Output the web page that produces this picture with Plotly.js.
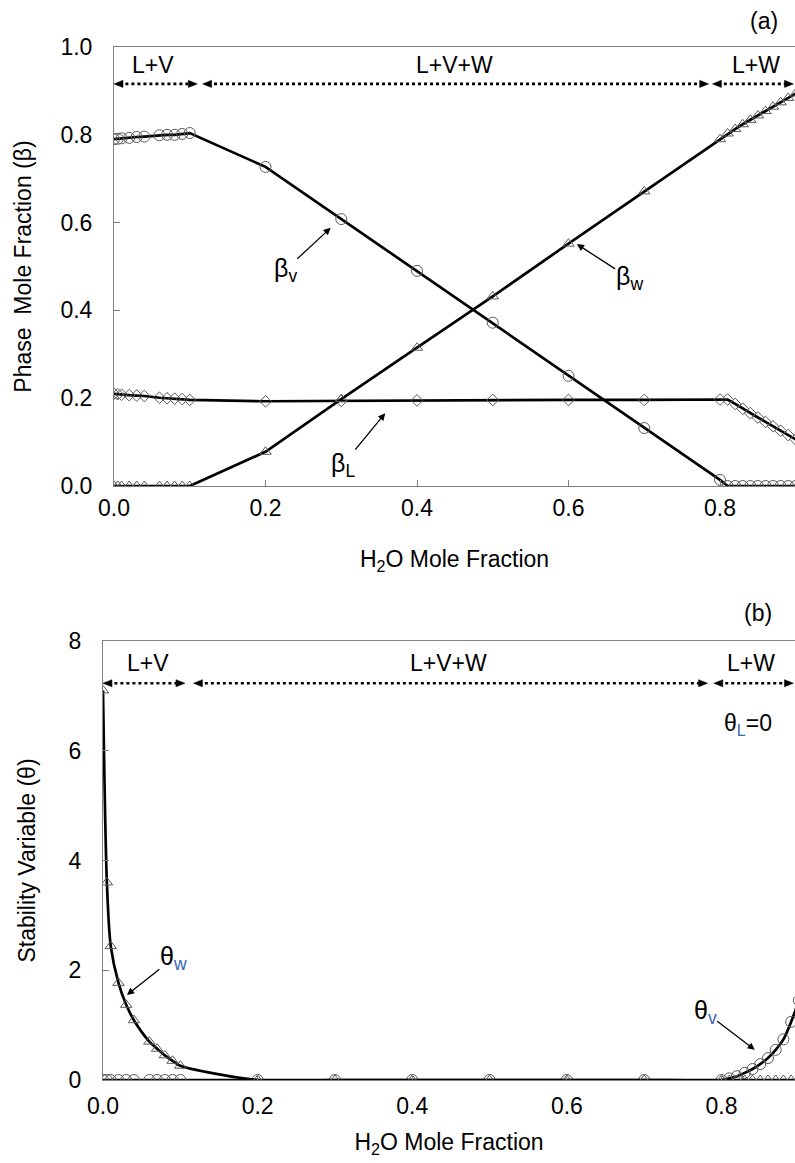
<!DOCTYPE html>
<html>
<head>
<meta charset="utf-8">
<script src="https://cdn.plot.ly/plotly-3.0.1.min.js"></script>
<style>html,body{margin:0;padding:0;background:#fff;}#chart{width:795px;height:1163px;}</style>
</head>
<body>
<div id="chart"></div>
<script>
// H2O mole fraction (shared x values)
const xH2O = [0, 0.005, 0.01, 0.02, 0.03, 0.04, 0.06, 0.07, 0.08, 0.09, 0.10,
  0.20, 0.30, 0.40, 0.50, 0.60, 0.70, 0.80,
  0.81, 0.82, 0.83, 0.84, 0.85, 0.86, 0.87, 0.88, 0.89, 0.90];

// Panel (a): phase mole fractions
const betaV = [0.790, 0.791, 0.792, 0.793, 0.795, 0.796, 0.799, 0.800, 0.800, 0.802, 0.804,
  0.727, 0.608, 0.490, 0.372, 0.251, 0.132, 0.014,
  0, 0, 0, 0, 0, 0, 0, 0, 0, 0];
const betaL = [0.210, 0.209, 0.208, 0.207, 0.206, 0.205, 0.201, 0.200, 0.199, 0.198, 0.196,
  0.193, 0.194, 0.195, 0.196, 0.196, 0.196, 0.197,
  0.197, 0.187, 0.176, 0.166, 0.156, 0.146, 0.136, 0.126, 0.116, 0.106];
const betaW = [0, 0, 0, 0, 0, 0, 0, 0, 0, 0, 0,
  0.078, 0.198, 0.315, 0.432, 0.552, 0.671, 0.790,
  0.803, 0.813, 0.824, 0.834, 0.844, 0.854, 0.864, 0.874, 0.884, 0.894];

// Panel (b): stability variables
const thetaW = [7.10, 3.60, 2.44, 1.77, 1.37, 1.09, 0.70, 0.57, 0.45, 0.35, 0.26,
  0, 0, 0, 0, 0, 0, 0,
  0, 0, 0, 0, 0, 0, 0, 0, 0, 0];
const thetaV = [0, 0, 0, 0, 0, 0, 0, 0, 0, 0, 0,
  0, 0, 0, 0, 0, 0, 0,
  0.03, 0.07, 0.13, 0.20, 0.29, 0.40, 0.55, 0.74, 1.06, 1.45];

const xTicks = [0, 0.2, 0.4, 0.6, 0.8];
const xTickText = ['0.0', '0.2', '0.4', '0.6', '0.8'];
const yTicksA = [0, 0.2, 0.4, 0.6, 0.8, 1.0];
const yTickTextA = ['0.0', '0.2', '0.4', '0.6', '0.8', '1.0'];
const yTicksB = [0, 2, 4, 6, 8];
const yTickTextB = ['0', '2', '4', '6', '8'];

const regionLabels = ['L+V', 'L+V+W', 'L+W'];

const W = 795, H = 1163;
const FONT = 'Liberation Sans, Arial, sans-serif';
const FS = 23;
const lineStyle = {color: '#000', width: 2.7};
const mk = (sym, size) => ({symbol: sym, size: size, color: '#5a5a5a', line: {color: '#5a5a5a', width: 1}});

const traces = [
  {x: xH2O, y: betaV, mode: 'lines+markers', line: lineStyle, marker: mk('circle-open', 11), xaxis: 'x', yaxis: 'y', name: 'βV'},
  {x: xH2O, y: betaL, mode: 'lines+markers', line: lineStyle, marker: mk('diamond-open', 9), xaxis: 'x', yaxis: 'y', name: 'βL'},
  {x: xH2O, y: betaW, mode: 'lines+markers', line: lineStyle, marker: mk('triangle-up-open', 10), xaxis: 'x', yaxis: 'y', name: 'βW'},
  {x: xH2O, y: thetaV, mode: 'lines+markers', line: Object.assign({shape: 'spline', smoothing: 0.8}, lineStyle), marker: mk('circle-open', 11), xaxis: 'x2', yaxis: 'y2', name: 'θV'},
  {x: xH2O, y: thetaW, mode: 'lines+markers', line: Object.assign({shape: 'spline', smoothing: 0.8}, lineStyle), marker: mk('triangle-up-open', 10), xaxis: 'x2', yaxis: 'y2', name: 'θW'}
];

const axisCommon = {
  showgrid: false, zeroline: false, showline: true, linecolor: '#808080', linewidth: 1,
  ticks: 'inside', ticklen: 6, tickcolor: '#808080', tickwidth: 1,
  tickfont: {family: FONT, size: FS, color: '#000'}
};

// axis geometry (px) used to size arrowheads
const geo = {
  a: {x0: 114, x1: W, xr: 0.899, y0: 47, y1: 486, yr: 1},
  b: {x0: 103, x1: W, xr: 0.895, y0: 641, y1: 1080, yr: 8}
};
// dotted region arrows: [x0, x1] per panel
const arrowsA = [[0, 0.110], [0.117, 0.785], [0.790, 0.897]];
const arrowsB = [[0, 0.106], [0.117, 0.782], [0.790, 0.893]];
const shapes = [];
const anns = [];
function regionArrows(list, xr, yr, yv, g) {
  const ux = g.xr / (g.x1 - g.x0), uy = g.yr / (g.y1 - g.y0);
  const L = 9 * ux, Hh = 3.6 * uy;
  list.forEach(([a, b]) => {
    shapes.push({type: 'line', xref: xr, yref: yr, x0: a + L * 0.6, x1: b - L * 0.6, y0: yv, y1: yv,
      line: {color: '#000', width: 2.6, dash: 'dot'}});
    shapes.push({type: 'path', xref: xr, yref: yr, fillcolor: '#000', line: {color: '#000', width: 0.5},
      path: `M ${a},${yv} L ${a + L},${yv + Hh} L ${a + L},${yv - Hh} Z`});
    shapes.push({type: 'path', xref: xr, yref: yr, fillcolor: '#000', line: {color: '#000', width: 0.5},
      path: `M ${b},${yv} L ${b - L},${yv + Hh} L ${b - L},${yv - Hh} Z`});
  });
}
regionArrows(arrowsA, 'x', 'y', 0.916, geo.a);
regionArrows(arrowsB, 'x2', 'y2', 7.23, geo.b);

const txt = (xr, yr, x, y, t, size) => ({xref: xr, yref: yr, x: x, y: y, text: t, showarrow: false,
  font: {family: FONT, size: size || FS, color: '#000'}, xanchor: 'center', yanchor: 'middle'});
// label with arrow: text centred at (tx,ty), arrow head at (hx,hy)
const lab = (xr, yr, t, tx, ty, hx, hy, size) => ({xref: xr, yref: yr, axref: xr, ayref: yr,
  x: hx, y: hy, ax: tx, ay: ty, text: t, showarrow: true, arrowhead: 2, arrowsize: 1.1, arrowwidth: 1.3,
  arrowcolor: '#000', standoff: 0, startstandoff: 0, borderpad: 0,
  font: {family: FONT, size: size || 25, color: '#000'}});

// region labels
[0.051, 0.449, 0.848].forEach((xx, i) => anns.push(txt('x', 'y', xx, 0.959, regionLabels[i])));
[0.058, 0.447, 0.838].forEach((xx, i) => anns.push(txt('x2', 'y2', xx, 7.6, regionLabels[i])));

// panel labels
anns.push({xref: 'paper', yref: 'paper', x: 764 / W, y: 1 - 21 / H, xanchor: 'center', yanchor: 'middle',
  text: '(a)', showarrow: false, font: {family: FONT, size: FS, color: '#000'}});
anns.push({xref: 'paper', yref: 'paper', x: 758 / W, y: 1 - 613 / H, xanchor: 'center', yanchor: 'middle',
  text: '(b)', showarrow: false, font: {family: FONT, size: FS, color: '#000'}});

// series labels with arrows
const SUBB = '#3a64b8';
anns.push(lab('x', 'y', 'β<sub>v</sub>', 0.226, 0.492, 0.286, 0.588));
anns.push(lab('x', 'y', 'β<sub>w</sub>', 0.680, 0.474, 0.611, 0.551));
anns.push(lab('x', 'y', 'β<sub>L</sub>', 0.302, 0.048, 0.358, 0.166));
anns.push(lab('x2', 'y2', 'θ<sub><span style="color:' + SUBB + '">w</span></sub>', 0.091, 2.22, 0.031, 1.55));
anns.push(lab('x2', 'y2', 'θ<sub><span style="color:' + SUBB + '">v</span></sub>', 0.779, 1.24, 0.843, 0.55));
anns.push(txt('x2', 'y2', 0.834, 6.47, 'θ<sub><span style="color:' + SUBB + '">L</span></sub>=0', FS));

const layout = {
  width: W, height: H,
  margin: {l: 0, r: 0, t: 0, b: 0},
  paper_bgcolor: '#fff', plot_bgcolor: '#fff',
  showlegend: false,
  font: {family: FONT, color: '#000'},
  xaxis: Object.assign({}, axisCommon, {
    domain: [geo.a.x0 / W, 1], range: [0, geo.a.xr], anchor: 'y', mirror: true,
    tickvals: xTicks, ticktext: xTickText, ticklabelstandoff: 1,
    title: {text: 'H<sub>2</sub>O Mole Fraction', font: {family: FONT, size: FS, color: '#000'}, standoff: 31}
  }),
  yaxis: Object.assign({}, axisCommon, {
    domain: [1 - geo.a.y1 / H, 1 - geo.a.y0 / H], range: [0, 1], anchor: 'x',
    tickvals: yTicksA, ticktext: yTickTextA, ticklabelstandoff: 16,
    title: {text: 'Phase  Mole Fraction (β)', font: {family: FONT, size: FS, color: '#000'}, standoff: 22}
  }),
  xaxis2: Object.assign({}, axisCommon, {
    domain: [geo.b.x0 / W, 1], range: [0, geo.b.xr], anchor: 'y2', mirror: true,
    tickvals: xTicks, ticktext: xTickText, ticklabelstandoff: 5,
    title: {text: 'H<sub>2</sub>O Mole Fraction', font: {family: FONT, size: FS, color: '#000'}, standoff: 16}
  }),
  yaxis2: Object.assign({}, axisCommon, {
    domain: [1 - geo.b.y1 / H, 1 - geo.b.y0 / H], range: [0, 8], anchor: 'x2',
    tickvals: yTicksB, ticktext: yTickTextB, ticklabelstandoff: 16,
    title: {text: 'Stability Variable (θ)', font: {family: FONT, size: FS, color: '#000'}, standoff: 26}
  }),
  shapes: shapes,
  annotations: anns
};

Plotly.newPlot('chart', traces, layout, {displayModeBar: false, staticPlot: true});
</script>
</body>
</html>
